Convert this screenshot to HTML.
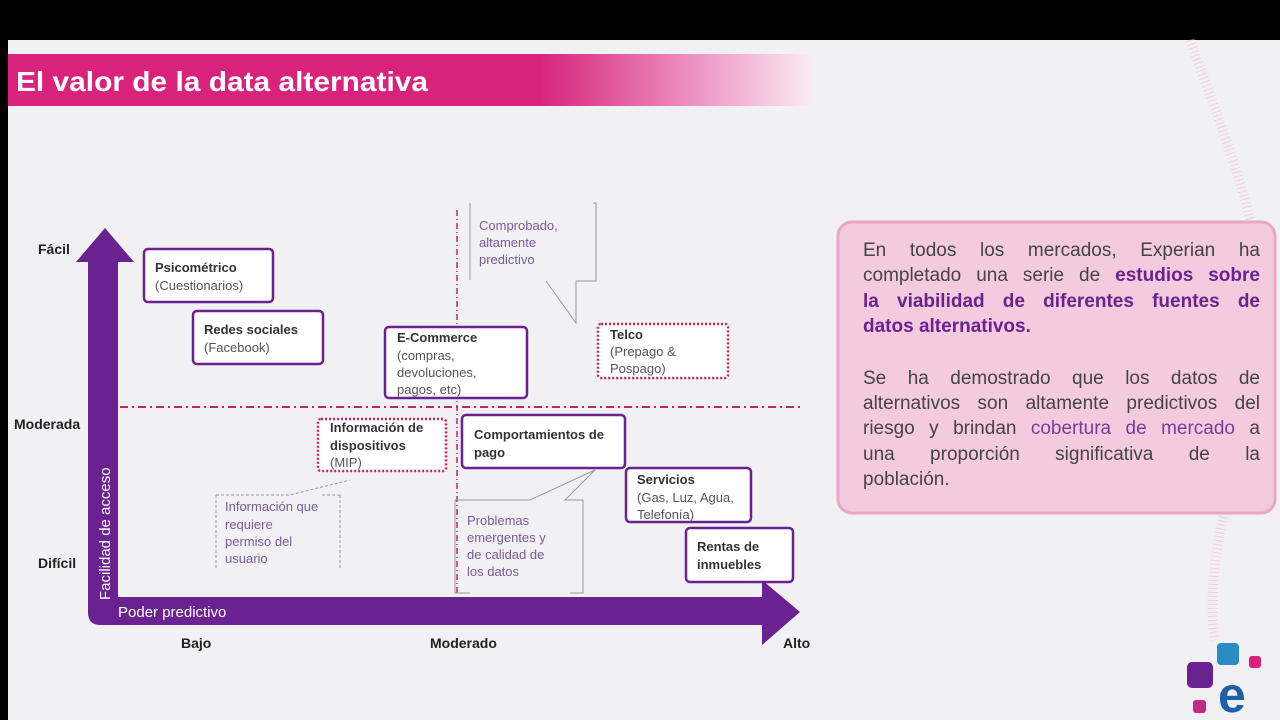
<!DOCTYPE html>
<html><head><meta charset="utf-8"><style>
html,body{margin:0;padding:0;background:#000;}
body{position:relative;width:1280px;height:720px;overflow:hidden;}
svg{display:block;font-family:"Liberation Sans",sans-serif;}
#pt{position:absolute;left:863px;top:238px;width:397px;font-family:"Liberation Sans",sans-serif;font-size:19px;line-height:25.4px;color:#444;}
#pt div{text-align:justify;text-align-last:justify;white-space:nowrap;}
#pt div.l{text-align-last:left;}
#pt .g{height:26px;}
#pt b{color:#6a2290;}
#pt span{color:#7a3a9c;}
</style></head><body>
<svg width="1280" height="720" viewBox="0 0 1280 720" xmlns="http://www.w3.org/2000/svg">
<defs>
<linearGradient id="tg" x1="0" x2="1">
<stop offset="0" stop-color="#d8227c"/><stop offset="0.66" stop-color="#d8227c"/><stop offset="1" stop-color="#fbeaf3"/>
</linearGradient>
</defs>
<rect x="0" y="0" width="1280" height="720" fill="#000"/>
<rect x="8" y="40" width="1272" height="680" fill="#f1f0f2"/>
<rect x="8" y="54" width="804" height="52" fill="url(#tg)"/>
<text x="16" y="91" font-size="28" font-weight="bold" fill="#fff" textLength="412" lengthAdjust="spacingAndGlyphs">El valor de la data alternativa</text>

<path d="M1190 40 C1230 150 1270 250 1262 330 C1255 430 1200 540 1215 640" fill="none" stroke="#eab0cd" stroke-width="10" stroke-dasharray="1 3" opacity="0.5"/>

<rect x="838" y="222" width="437" height="291" rx="14" fill="#f4cade" stroke="#eaa5c8" stroke-width="3"/>

<rect x="1217" y="643" width="22" height="22" rx="4" fill="#2a8cc0"/>
<rect x="1249" y="656" width="12" height="12" rx="3" fill="#d8227c"/>
<rect x="1187" y="662" width="26" height="26" rx="5" fill="#6a2290"/>
<rect x="1193" y="700" width="13" height="13" rx="3" fill="#c02a8a"/>
<text x="1218" y="712" font-size="50" font-weight="bold" fill="#1d5fa8">e</text>

<line x1="457" y1="210" x2="457" y2="595" stroke="#c8245e" stroke-width="1.5" stroke-dasharray="6 3 1 3"/>
<line x1="120" y1="407" x2="800" y2="407" stroke="#c8245e" stroke-width="2" stroke-dasharray="8 4 2 4"/>

<path d="M88 262 L76 262 L105 228 L134 262 L118 262 L118 597 L762 597 L762 580 L800 612 L762 645 L762 625 L100 625 Q88 625 88 612 Z" fill="#6a2290"/>
<text x="118" y="617" font-size="15" fill="#fff">Poder predictivo</text>
<text transform="translate(110,600) rotate(-90)" font-size="15" fill="#fff">Facilidad de acceso</text>

<g font-size="14" font-weight="bold" fill="#222">
<text x="38" y="254">Fácil</text>
<text x="14" y="429">Moderada</text>
<text x="38" y="568">Difícil</text>
<text x="181" y="648">Bajo</text>
<text x="430" y="648">Moderado</text>
<text x="783" y="648">Alto</text>
</g>

<g fill="#fff" stroke="#6a2290" stroke-width="2.5">
<rect x="144" y="249" width="129" height="53" rx="4"/>
<rect x="193" y="311" width="130" height="53" rx="4"/>
<rect x="385" y="327" width="142" height="71" rx="4"/>
<rect x="462" y="415" width="163" height="53" rx="4"/>
<rect x="626" y="468" width="125" height="54" rx="4"/>
<rect x="686" y="528" width="107" height="54" rx="4"/>
</g>
<g fill="#fff" stroke="#c8245e" stroke-width="2.5" stroke-dasharray="2 2">
<rect x="318" y="419" width="128" height="52" rx="3"/>
<rect x="598" y="324" width="130" height="54" rx="3"/>
</g>

<g font-size="13" fill="#333">
<text x="155" y="272" font-weight="bold">Psicométrico</text>
<text x="155" y="290" fill="#555">(Cuestionarios)</text>
<text x="204" y="334" font-weight="bold">Redes sociales</text>
<text x="204" y="352" fill="#555">(Facebook)</text>
<text x="397" y="342" font-weight="bold">E-Commerce</text>
<text x="397" y="360" fill="#555">(compras,</text>
<text x="397" y="377" fill="#555">devoluciones,</text>
<text x="397" y="394" fill="#555">pagos, etc)</text>
<text x="330" y="432" font-weight="bold">Información de</text>
<text x="330" y="450" font-weight="bold">dispositivos</text>
<text x="330" y="467" fill="#555">(MIP)</text>
<text x="474" y="439" font-weight="bold">Comportamientos de</text>
<text x="474" y="457" font-weight="bold">pago</text>
<text x="610" y="339" font-weight="bold">Telco</text>
<text x="610" y="356" fill="#555">(Prepago &amp;</text>
<text x="610" y="373" fill="#555">Pospago)</text>
<text x="637" y="484" font-weight="bold">Servicios</text>
<text x="637" y="502" fill="#555">(Gas, Luz, Agua,</text>
<text x="637" y="519" fill="#555">Telefonía)</text>
<text x="697" y="551" font-weight="bold">Rentas de</text>
<text x="697" y="569" font-weight="bold">inmuebles</text>
</g>

<g fill="none" stroke="#999" stroke-width="1">
<path d="M470 203 L470 280 M593 203 L596 203 L596 281 L576 281 L576 323 L546 281"/>
<path d="M216 495 L216 570 M340 495 L340 570 M216 495 L290 495 L350 480 M322 495 L340 495" stroke-dasharray="3 2"/>
<path d="M455 500 L455 593 L470 593 M583 500 L583 593 L570 593 M455 500 L530 500 L595 470 L565 500 L583 500"/>
</g>
<g font-size="13" fill="#7a5c9c">
<text x="479" y="230">Comprobado,</text>
<text x="479" y="247">altamente</text>
<text x="479" y="264">predictivo</text>
<text x="225" y="511">Información que</text>
<text x="225" y="529">requiere</text>
<text x="225" y="546">permiso del</text>
<text x="225" y="563">usuario</text>
<text x="467" y="525">Problemas</text>
<text x="467" y="542">emergentes y</text>
<text x="467" y="559">de calidad de</text>
<text x="467" y="576">los datos</text>
</g>
</svg>
<div id="pt">
<div>En todos los mercados, Experian ha</div>
<div>completado una serie de <b>estudios sobre</b></div>
<div><b>la viabilidad de diferentes fuentes de</b></div>
<div class="l"><b>datos alternativos.</b></div>
<div class="g"></div>
<div>Se ha demostrado que los datos de</div>
<div>alternativos son altamente predictivos del</div>
<div>riesgo y brindan <span>cobertura de mercado</span> a</div>
<div>una proporción significativa de la</div>
<div class="l">población.</div>
</div>
</body></html>
